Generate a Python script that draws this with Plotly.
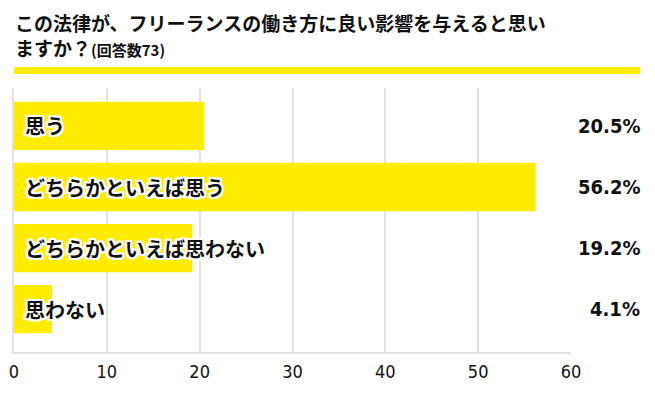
import plotly.graph_objects as go

categories = ["思う", "どちらかといえば思う", "どちらかといえば思わない", "思わない"]
values = [20.5, 56.2, 19.2, 4.1]
value_labels = ["20.5%", "56.2%", "19.2%", "4.1%"]
tick_vals = [0, 10, 20, 30, 40, 50, 60]

title_line1 = "この法律が、フリーランスの働き方に良い影響を与えると思い"
title_line2 = "ますか？"
title_note = "(回答数73)"

YELLOW = "#ffec00"
JP = "Noto Sans CJK JP"
NUM = "DejaVu Sans Condensed, Roboto"

W, H = 655, 396
L, R, T, B = 14, 84, 88, 44
plot_h = H - T - B

def py(p):
    return (H - B - p) / plot_h

def px(p):
    return (p - L) / (W - L - R)

pos = list(range(len(categories)))

fig = go.Figure()
fig.add_trace(go.Bar(
    x=values, y=pos, orientation="h",
    marker=dict(color=YELLOW, line=dict(width=0)),
    width=0.79, hoverinfo="skip",
))

outline = ",".join(f"{dx}px {dy}px 0 #fff" for dx in (-2, -1, 0, 1, 2) for dy in (-2, -1, 0, 1, 2) if (dx, dy) != (0, 0))

annotations = []
for i, (c, lab) in enumerate(zip(categories, value_labels)):
    annotations.append(dict(
        x=0, y=i, xref="x", yref="y", text=f"<b>{c}</b>", showarrow=False,
        xanchor="left", yanchor="middle", xshift=9,
        font=dict(family=JP, size=20, color="#111", shadow=outline),
    ))
    annotations.append(dict(
        x=px(642), y=i, xref="paper", yref="y", text=f"<b>{lab}</b>", showarrow=False,
        xanchor="right", yanchor="middle",
        font=dict(family=NUM, size=20, color="#111"),
    ))

annotations.append(dict(
    x=px(13), y=py(22), xref="paper", yref="paper", text=f"<b>{title_line1}</b>",
    showarrow=False, xanchor="left", yanchor="middle",
    font=dict(family=JP, size=19, color="#111"),
))
annotations.append(dict(
    x=px(13), y=py(48), xref="paper", yref="paper",
    text=f"<b>{title_line2}</b><span style='font-size:15px'><b>{title_note}</b></span>",
    showarrow=False, xanchor="left", yanchor="middle",
    font=dict(family=JP, size=19, color="#111"),
))

fig.update_layout(
    width=W, height=H,
    margin=dict(l=L, r=R, t=T, b=B, pad=0, autoexpand=False),
    paper_bgcolor="white", plot_bgcolor="white",
    showlegend=False,
    bargap=0.2,
    annotations=annotations,
    shapes=[dict(type="rect", xref="paper", yref="paper",
                 x0=px(14), x1=px(640), y0=py(74), y1=py(67),
                 fillcolor=YELLOW, line=dict(width=0))],
    xaxis=dict(range=[0, 60], tickvals=tick_vals, showgrid=True,
               gridcolor="#e2e2e2", gridwidth=1.5, zeroline=False,
               showline=True, linecolor="#e2e2e2", linewidth=2,
               ticks="", tickfont=dict(family=NUM, size=18, color="#111"),
               ticklabelstandoff=2, fixedrange=True, automargin=False),
    yaxis=dict(range=[3.7, -0.62], showticklabels=False, showgrid=False,
               zeroline=False, showline=True, linecolor="#e2e2e2", linewidth=2,
               ticks="", fixedrange=True, automargin=False),
)

fig.write_html("out.html", config={"displayModeBar": False},
               post_script="document.body.style.margin='0';document.body.style.overflow='hidden';")
